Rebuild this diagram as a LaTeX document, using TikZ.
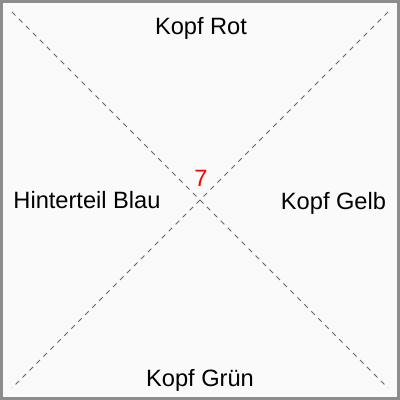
\documentclass[tikz,border=0pt]{standalone}
\usepackage{fontspec}
\setmainfont{Liberation Sans}
\usepackage{xcolor}
\usepackage{tikz}

\begin{document}
\begin{tikzpicture}[x=0.025cm, y=-0.025cm, font=\fontsize{16.8}{19}\selectfont]
\tikzset{
  tagtext/.style={inner sep=0pt, anchor=base},
  diag/.style={dash pattern=on 3.5pt off 3.5pt, line width=0.7pt, black!60}
}
% frame
\fill[black!2] (0,0) rectangle (400,400);
\draw[black!45, line width=2.1pt] (1.5,1.5) rectangle (398.5,398.5);

% corners of the cross
\coordinate (nw) at (12,12);
\coordinate (ne) at (388,12);
\coordinate (sw) at (12,388);
\coordinate (se) at (388,388);
\draw[diag] (nw) -- (se);
\draw[diag] (ne) -- (sw);

% labels
\node[tagtext] (top) at (201,35) {Kopf Rot};
\node[tagtext] (left) at (87,208) {Hinterteil Blau};
\node[tagtext] (right) at (333.5,209) {Kopf Gelb};
\node[tagtext] (bottom) at (200,386) {Kopf Grün};
\node[tagtext, text=red] (num) at (201,186) {7};
\end{tikzpicture}
\end{document}
